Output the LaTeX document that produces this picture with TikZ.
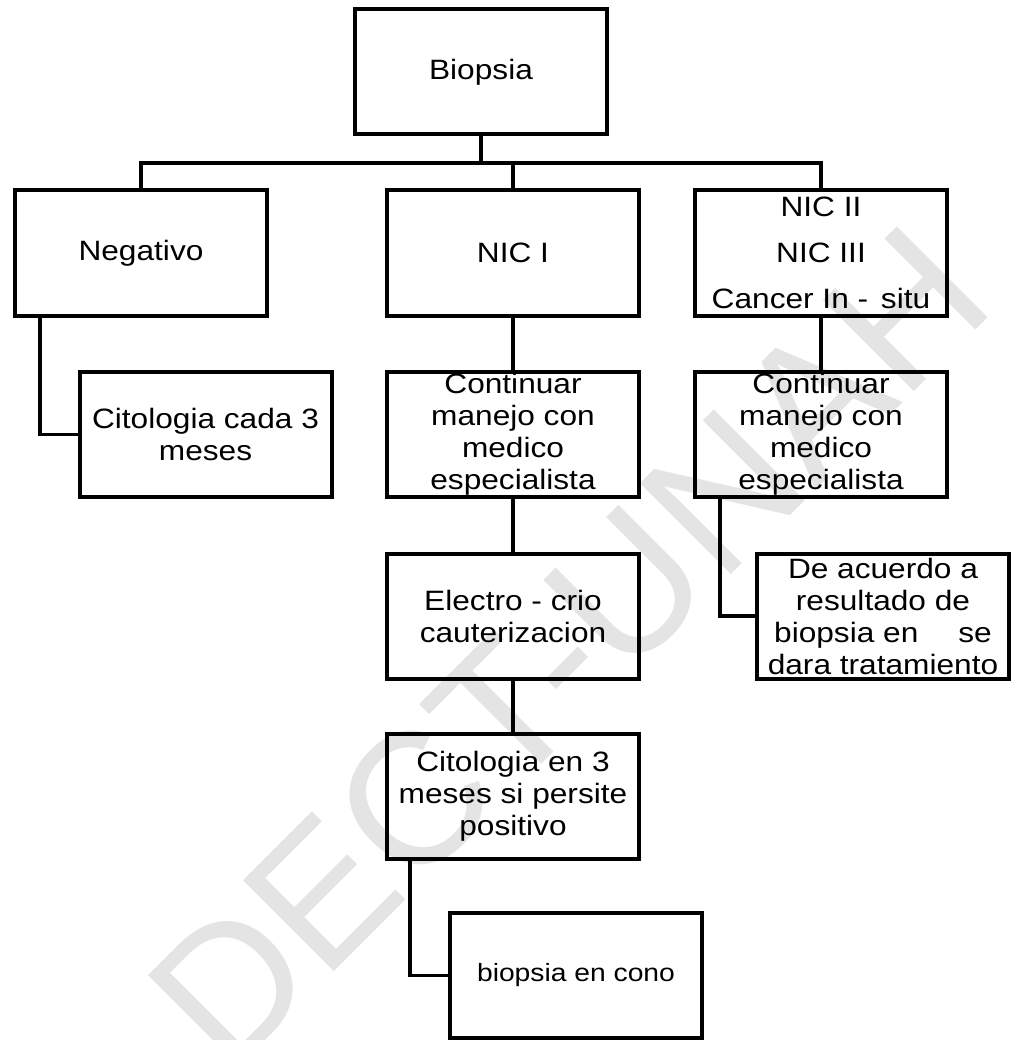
\documentclass[tikz,border=0pt]{standalone}
\usepackage{fontspec}
\setmainfont{Liberation Sans}[FakeStretch=1.13]
\newfontfamily\wmfont{Liberation Sans}
\definecolor{wm}{RGB}{228,228,228}
\begin{document}
\begin{tikzpicture}[x=1pt,y=-1pt,
  box/.style={draw, line width=4pt, minimum width=252pt, minimum height=125pt,
    inner sep=0pt, align=center, font=\fontsize{28}{32}\selectfont},
  link/.style={line width=3.5pt},
  wmark/.style={anchor=base west, rotate=45, inner sep=0pt, text=wm,
    font=\wmfont\fontsize{187}{187}\selectfont}]
\useasboundingbox (0,0) rectangle (1013,1040);
\node[wmark] (wmk) at (228,1078) {DECT-UNAH};

\node[box] (bio) at (481,72) {Biopsia};
\node[box] (neg) at (141,253) {Negativo};
\node[box] (nic1) at (513,253) {NIC I};
\node[box, font=\fontsize{28}{46}\selectfont] (nic2) at (821,253) {NIC II\\NIC III\\Cancer In -\hspace{4pt} situ};
\node[box] (cit) at (205.5,434.5) {Citologia cada 3\\meses};
\node[box] (con1) at (513,434.5) {Continuar\\manejo con\\medico\\especialista};
\node[box] (con2) at (821,434.5) {Continuar\\manejo con\\medico\\especialista};
\node[box] (ele) at (513,616) {Electro - crio\\cauterizacion};
\node[box] (acu) at (883,616) {De acuerdo a\\resultado de\\biopsia en\hspace{40pt}se\\dara tratamiento};
\node[box] (cit3) at (513,796) {Citologia en 3\\meses si persite\\positivo};
\node[box, font=\fontsize{25}{30}\selectfont] (cono) at (576,975.5) {biopsia en cono};

\coordinate (bar) at (481,163);
\draw[link] (bio.south) -- (bar);
\draw[link] (neg.north) |- (bar) -| (nic2.north);
\draw[link] (nic1.north) -- (nic1.north |- bar);
\draw[link] (nic1) -- (con1);
\draw[link] (con1) -- (ele);
\draw[link] (ele) -- (cit3);
\draw[link] (nic2) -- (con2);
\draw[link] ([xshift=27pt]neg.south west) |- (cit.west);
\draw[link] ([xshift=27pt]con2.south west) |- (acu.west);
\draw[link] ([xshift=25pt]cit3.south west) |- (cono.west);
\end{tikzpicture}
\end{document}
